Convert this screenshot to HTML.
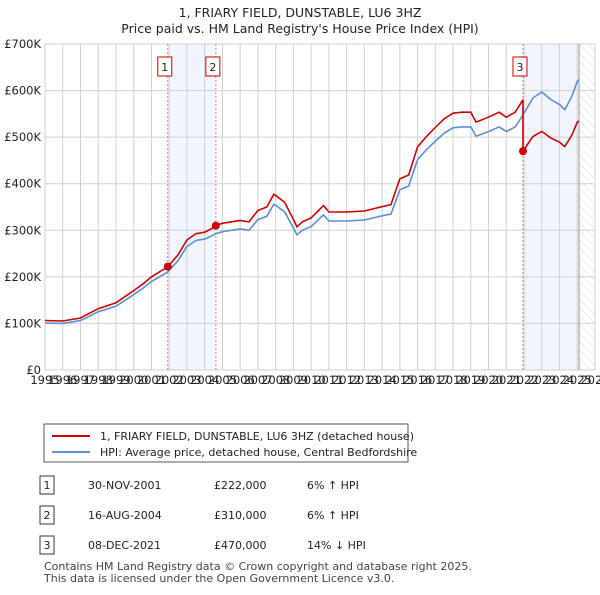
<!DOCTYPE html>
<html><head><meta charset="utf-8"><style>
body{margin:0;background:#fff;font-family:"Liberation Sans","DejaVu Sans",sans-serif;}
svg text{font-family:"DejaVu Sans","Liberation Sans",sans-serif;}
</style></head><body>
<svg id="c" width="600" height="590" xmlns="http://www.w3.org/2000/svg">
<defs><pattern id="hatch" width="6" height="6" patternUnits="userSpaceOnUse" patternTransform="rotate(-45)"><line x1="0" y1="0" x2="0" y2="6" stroke="#d8d8d8" stroke-width="1"/></pattern></defs>
<text x="300" y="17" text-anchor="middle" font-size="12.5" fill="#222">1, FRIARY FIELD, DUNSTABLE, LU6 3HZ</text>
<text x="300" y="33" text-anchor="middle" font-size="12.5" fill="#222">Price paid vs. HM Land Registry's House Price Index (HPI)</text>
<g id="plot"></g>
<g>
<rect x="44" y="424" width="364" height="38" fill="#fff" stroke="#555"/>
<line x1="52" y1="436" x2="90" y2="436" stroke="#cc0000" stroke-width="2"/>
<text x="100" y="440" font-size="11" fill="#222">1, FRIARY FIELD, DUNSTABLE, LU6 3HZ (detached house)</text>
<line x1="52" y1="452" x2="90" y2="452" stroke="#5b8fd4" stroke-width="2"/>
<text x="100" y="456" font-size="11" fill="#222">HPI: Average price, detached house, Central Bedfordshire</text>
</g>
<g id="table" font-size="11" fill="#222"></g>
<text x="44" y="570" font-size="11" fill="#444">Contains HM Land Registry data © Crown copyright and database right 2025.</text>
<text x="44" y="582" font-size="11" fill="#444">This data is licensed under the Open Government Licence v3.0.</text>
</svg>
<script>
const hpiDates=[1995,1996,1997,1998,1999,2000,2000.5,2001,2001.9,2002.5,2003,2003.5,2004,2004.6,2005,2006,2006.5,2007,2007.5,2007.9,2008.5,2009,2009.2,2009.5,2010,2010.7,2011,2012,2013,2014,2014.5,2015,2015.5,2016,2016.5,2017,2017.5,2018,2018.5,2019,2019.3,2020,2020.6,2021,2021.5,2021.9,2022.5,2023,2023.5,2024,2024.3,2024.7,2025,2025.1];
const hpiValues=[101,100,106,125,137,162,175,190,210,235,265,278,281,292,297,303,300,323,330,356,340,305,290,300,308,333,320,320,322,331,335,387,395,452,473,491,509,520,522,522,502,512,522,512,522,545,584,597,581,570,559,588,620,623];
const saleDates=[2001.92,2004.63,2021.94];
const salePrices=[222,310,470];
const saleLabels=["30-NOV-2001","16-AUG-2004","08-DEC-2021"];
const salePriceText=["£222,000","£310,000","£470,000"];
const saleHpiText=["6% ↑ HPI","6% ↑ HPI","14% ↓ HPI"];
const yTicks=[0,100,200,300,400,500,600,700];
const yTickLabels=["£0","£100K","£200K","£300K","£400K","£500K","£600K","£700K"];
const xYears=[1995,1996,1997,1998,1999,2000,2001,2002,2003,2004,2005,2006,2007,2008,2009,2010,2011,2012,2013,2014,2015,2016,2017,2018,2019,2020,2021,2022,2023,2024,2025,2026];
const dataEnd=2025.1;
const X0=45,X1=595,Y0=370,Y1=44;
const xs=t=>X0+(t-1995)/(2026-1995)*(X1-X0);
const ys=v=>Y0-v/700*(Y0-Y1);
const NS="http://www.w3.org/2000/svg";
const plot=document.getElementById('plot');
function mk(tag,attrs,parent){const e=document.createElementNS(NS,tag);for(const k in attrs)e.setAttribute(k,attrs[k]);(parent||plot).appendChild(e);return e;}
function hpiAt(t){for(let i=1;i<hpiDates.length;i++){if(t<=hpiDates[i]){const f=(t-hpiDates[i-1])/(hpiDates[i]-hpiDates[i-1]);return hpiValues[i-1]+f*(hpiValues[i]-hpiValues[i-1]);}}return hpiValues[hpiValues.length-1];}
let r=mk('rect',{x:xs(saleDates[0]),y:Y1,width:xs(saleDates[1])-xs(saleDates[0]),height:Y0-Y1,fill:'#f1f5fd'});

r=mk('rect',{x:xs(saleDates[2]),y:Y1,width:xs(dataEnd)-xs(saleDates[2]),height:Y0-Y1,fill:'#f1f5fd'});

r=mk('rect',{x:xs(dataEnd),y:Y1,width:X1-xs(dataEnd),height:Y0-Y1,fill:'url(#hatch)'});

xYears.forEach(y=>{const l=mk('line',{x1:xs(y),x2:xs(y),y1:Y1,y2:Y0,stroke:'#d0d0d0'});
const t=mk('text',{x:xs(y),y:Y0+14,'text-anchor':'middle','font-size':11.5,fill:'#222'});t.textContent=y;});
yTicks.forEach((v,i)=>{const l=mk('line',{x1:X0,x2:X1,y1:ys(v),y2:ys(v),stroke:'#d0d0d0'});
const t=mk('text',{x:X0-4,y:ys(v)+4,'text-anchor':'end','font-size':11.5,fill:'#222'});t.textContent=yTickLabels[i];});
let l=mk('line',{x1:xs(dataEnd),x2:xs(dataEnd),y1:Y1,y2:Y0,stroke:'#999'});
saleDates.forEach((d,i)=>{const v=mk('line',{x1:xs(d),x2:xs(d),y1:Y1,y2:Y0,stroke:'#f07070','stroke-dasharray':'2,2'});
const b=mk('rect',{x:xs(d)-10,y:57,width:14,height:19,fill:'#fff',stroke:'#cc0000'});
const t=mk('text',{x:xs(d)-3,y:71,'text-anchor':'middle','font-size':11,fill:'#222'});t.textContent=i+1;});
const hp=hpiDates.map((d,i)=>`${xs(d).toFixed(1)},${ys(hpiValues[i]).toFixed(1)}`).join(' ');
let p=mk('polyline',{points:hp,fill:'none',stroke:'#5b8fd4','stroke-width':1.6});
function ratioAt(t){let k=0;for(let i=0;i<saleDates.length;i++)if(t>=saleDates[i])k=i;return salePrices[k]/hpiAt(saleDates[k]);}
const pts=[];
hpiDates.forEach((d,i)=>{
  saleDates.forEach((s,j)=>{if(s>(i?hpiDates[i-1]:0)&&s<=d){const prev=j?salePrices[j-1]/hpiAt(saleDates[j-1]):salePrices[0]/hpiAt(saleDates[0]);pts.push([s,hpiAt(s)*prev]);pts.push([s,salePrices[j]]);}});
  pts.push([d,hpiValues[i]*ratioAt(d)]);
});
p=mk('polyline',{points:pts.map(q=>`${xs(q[0]).toFixed(1)},${ys(q[1]).toFixed(1)}`).join(' '),fill:'none',stroke:'#cc0000','stroke-width':1.6});
saleDates.forEach((d,i)=>{const c=mk('circle',{cx:xs(d),cy:ys(salePrices[i]),r:4,fill:'#cc0000'});});
const tb=document.getElementById('table');
saleDates.forEach((d,i)=>{const yy=485+i*30;
const b=mk('rect',{x:40,y:yy-9,width:14,height:18,fill:'#fff',stroke:'#333'},tb);
let t=mk('text',{x:47,y:yy+4,'text-anchor':'middle'},tb);t.textContent=i+1;
t=mk('text',{x:88,y:yy+4},tb);t.textContent=saleLabels[i];
t=mk('text',{x:214,y:yy+4},tb);t.textContent=salePriceText[i];
t=mk('text',{x:307,y:yy+4},tb);t.textContent=saleHpiText[i];});
</script>
</body></html>
